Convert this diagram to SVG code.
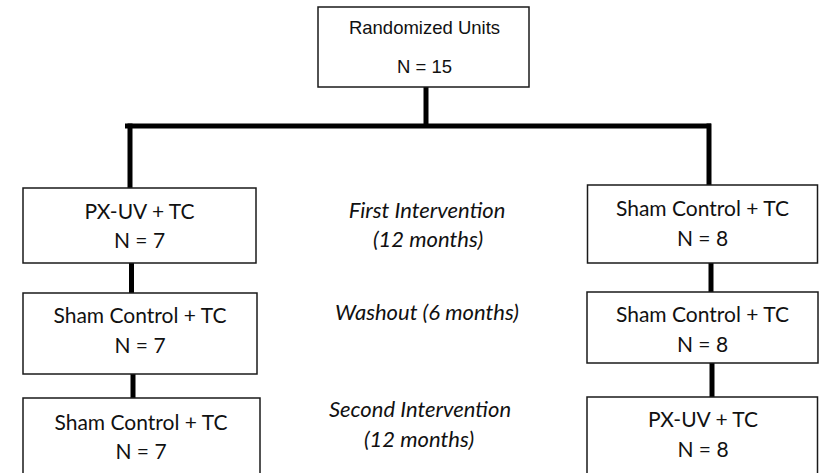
<svg xmlns="http://www.w3.org/2000/svg" width="823" height="473" viewBox="0 0 823 473">
  <style>
    .box { fill: #ffffff; stroke: #1a1a1a; stroke-width: 1.5; }
    .conn { stroke: #000000; stroke-width: 5; fill: none; }
    .t { font-family: Lato, "Open Sans", "Liberation Sans", sans-serif; font-size: 21px; fill: #111111; text-anchor: middle; }
    .ta { font-family: "Liberation Sans", Arial, sans-serif; font-size: 18.5px; fill: #111111; text-anchor: middle; }
    .lbl { font-family: Lato, "Open Sans", "Liberation Sans", sans-serif; font-size: 22px; font-style: italic; fill: #111111; text-anchor: middle; }
  </style>
  <rect x="0" y="0" width="823" height="473" fill="#ffffff"/>
  <g id="connectors">
    <line class="conn" x1="426" y1="87" x2="426" y2="126"/>
    <line class="conn" x1="125" y1="126" x2="711" y2="126"/>
    <line class="conn" x1="130" y1="123.5" x2="130" y2="188"/>
    <line class="conn" x1="709" y1="123.5" x2="709" y2="185"/>
    <line class="conn" x1="131.5" y1="263" x2="131.5" y2="293"/>
    <line class="conn" x1="133" y1="374" x2="133" y2="398"/>
    <line class="conn" x1="711" y1="263" x2="711" y2="292"/>
    <line class="conn" x1="712" y1="363" x2="712" y2="397"/>
  </g>
  <g id="randomized">
    <rect class="box" x="318" y="7" width="211" height="80"/>
    <text class="ta" x="424.5" y="33.5">Randomized Units</text>
    <text class="ta" x="424.5" y="73">N = 15</text>
  </g>
  <g id="left1">
    <rect class="box" x="23" y="188" width="233" height="75"/>
    <text class="t" x="139.5" y="219">PX-UV + TC</text>
    <text class="t" x="139.5" y="247.5">N = 7</text>
  </g>
  <g id="left2">
    <rect class="box" x="23" y="293" width="234" height="81"/>
    <text class="t" x="140" y="323">Sham Control + TC</text>
    <text class="t" x="140" y="353">N = 7</text>
  </g>
  <g id="left3">
    <rect class="box" x="23" y="398" width="237" height="85"/>
    <text class="t" x="141" y="430">Sham Control + TC</text>
    <text class="t" x="141" y="459">N = 7</text>
  </g>
  <g id="right1">
    <rect class="box" x="587.5" y="185" width="230" height="78"/>
    <text class="t" x="702.5" y="215.5">Sham Control + TC</text>
    <text class="t" x="702.5" y="246">N = 8</text>
  </g>
  <g id="right2">
    <rect class="box" x="587" y="292" width="231" height="71"/>
    <text class="t" x="702.5" y="321.5">Sham Control + TC</text>
    <text class="t" x="702.5" y="351.5">N = 8</text>
  </g>
  <g id="right3">
    <rect class="box" x="587" y="397" width="230.5" height="86"/>
    <text class="t" x="703" y="427">PX-UV + TC</text>
    <text class="t" x="703" y="457">N = 8</text>
  </g>
  <g id="phase-labels">
    <text class="lbl" x="427" y="218">First Intervention</text>
    <text class="lbl" x="428" y="247">(12 months)</text>
    <text class="lbl" x="427" y="320">Washout (6 months)</text>
    <text class="lbl" x="420" y="417">Second Intervention</text>
    <text class="lbl" x="419" y="447">(12 months)</text>
  </g>
</svg>
